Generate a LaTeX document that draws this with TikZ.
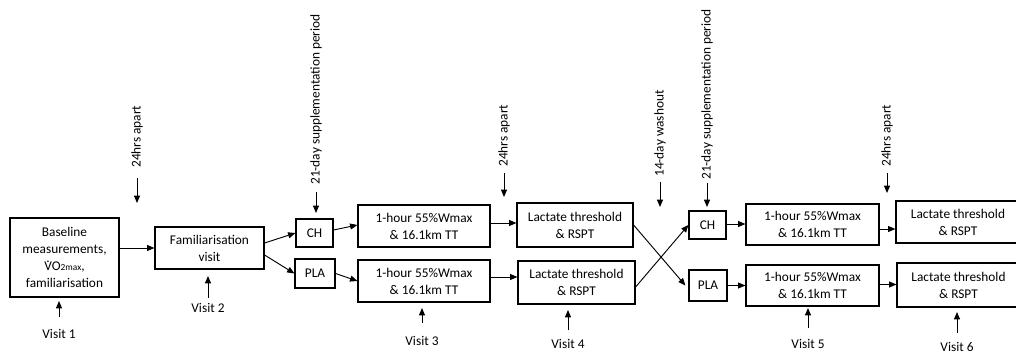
\documentclass[tikz,border=0pt]{standalone}
\usepackage{fontspec}
\setmainfont{Carlito}
\usetikzlibrary{arrows.meta,calc}
\newcommand{\vdotV}{{\ooalign{V\cr\hidewidth\smash{\raisebox{0.6em}{.}}\hidewidth\cr}}}
\begin{document}
\begin{tikzpicture}[x=0.75pt,y=-0.75pt,
  box/.style 2 args={draw, line width=0.9pt, minimum width=#1*0.75pt, minimum height=#2*0.75pt,
    inner sep=0pt, align=center, font=\fontsize{10}{12.8}\selectfont},
  arr/.style={line width=0.7pt, -{Triangle[length=5.5pt,width=4.5pt]}},
  toplbl/.style={rotate=90, anchor=west, inner sep=0pt, font=\fontsize{10}{12}\selectfont},
  vislbl/.style={anchor=north, inner sep=0pt, font=\fontsize{10}{12}\selectfont}
]
\useasboundingbox (0,0) rectangle (1016,354);
\clip (0,0) rectangle (1016,354);

% boxes
\node[box={109}{79}] (b1) at (64.5,257.5) {Baseline\\measurements,\\\vdotV O{\fontsize{7}{8}\selectfont 2max},\\familiarisation};
\node[box={109}{42}] (b2) at (209.5,248) {Familiarisation\\visit};
\node[box={37}{28}] (ch1) at (314.5,233) {CH};
\node[box={40}{29}] (pla1) at (315,273.5) {PLA};
\node[box={132}{42}] (h1t) at (424,226) {1-hour 55\%Wmax\\\& 16.1km TT};
\node[box={132}{42}] (h1b) at (424,281) {1-hour 55\%Wmax\\\& 16.1km TT};
\node[box={116}{44}] (l1t) at (575,225) {Lactate threshold\\\& RSPT};
\node[box={117}{43}] (l1b) at (576.5,282.5) {Lactate threshold\\\& RSPT};
\node[box={37}{28}] (ch2) at (707.5,225) {CH};
\node[box={38}{31}] (pla2) at (708,285.5) {PLA};
\node[box={133}{41}] (h2t) at (812.5,224.5) {1-hour 55\%Wmax\\\& 16.1km TT};
\node[box={133}{41}] (h2b) at (812.5,285.5) {1-hour 55\%Wmax\\\& 16.1km TT};
\node[box={124}{42}] (l2t) at (958,222) {Lactate threshold\\\& RSPT};
\node[box={123}{44}] (l2b) at (958.5,285) {Lactate threshold\\\& RSPT};

% flow connectors
\draw[arr] (b1.east |- b2.west) -- (b2.west);
\draw[arr] ($(b2.east)+(0,-5)$) -- (ch1.west);
\draw[arr] ($(b2.east)+(0,7)$) -- (pla1.west);
\draw[arr] ($(ch1.east)+(0,-3)$) -- ($(h1t.west)+(0,-1)$);
\draw[arr] (pla1.east) -- (h1b.west);
\draw[arr] ($(h1t.east)+(0,-3)$) -- ($(l1t.west |- h1t.east)+(0,-3)$);
\draw[arr] ($(h1b.east)+(0,-4)$) -- ($(l1b.west |- h1b.east)+(0,-4)$);
\draw[arr] (l1t.east) -- ($(pla2.west)+(-3,0)$);
\draw[arr] ($(l1b.east)+(0,4.5)$) -- (ch2.west);
\draw[arr] ($(ch2.east)+(0,-1)$) -- ($(h2t.west |- ch2.east)+(0,-1)$);
\draw[arr] (pla2.east) -- (h2b.west |- pla2.east);
\draw[arr] ($(h2t.east)+(0,4.5)$) -- ($(l2t.west |- h2t.east)+(0,4.5)$);
\draw[arr] ($(h2b.east)+(0,-1)$) -- ($(l2b.west |- h2b.east)+(0,-1)$);

% top annotations
\node[toplbl] (t1) at (137,168) {24hrs apart};
\coordinate (t1e) at (137,203);
\draw[arr] ($(t1.west)+(0,10)$) -- (t1e);
\node[toplbl] (t2) at (316,185) {21-day supplementation period};
\coordinate (t2e) at (316,213);
\draw[arr] ($(t2.west)+(0,7)$) -- (t2e);
\node[toplbl] (t3) at (504,167) {24hrs apart};
\coordinate (t3e) at (504,197);
\draw[arr] ($(t3.west)+(0,6)$) -- (t3e);
\node[toplbl] (t4) at (660,177) {14-day washout};
\coordinate (t4e) at (660,207);
\draw[arr] ($(t4.west)+(0,5)$) -- (t4e);
\node[toplbl] (t5) at (707,180) {21-day supplementation period};
\coordinate (t5e) at (707,207);
\draw[arr] ($(t5.west)+(0,3)$) -- (t5e);
\node[toplbl] (t6) at (887,167) {24hrs apart};
\coordinate (t6e) at (887,193);
\draw[arr] ($(t6.west)+(0,6)$) -- (t6e);

% visits
\node[vislbl] (v1) at (59,329) {Visit 1};
\coordinate (v1e) at (59,301);
\draw[arr] ($(v1.north)+(0,-12)$) -- (v1e);
\node[vislbl] (v2) at (208,303) {Visit 2};
\coordinate (v2e) at (208,276);
\draw[arr] ($(v2.north)+(0,-5)$) -- (v2e);
\node[vislbl] (v3) at (422,336) {Visit 3};
\coordinate (v3e) at (422,308);
\draw[arr] ($(v3.north)+(0,-13)$) -- (v3e);
\node[vislbl] (v4) at (568,339) {Visit 4};
\coordinate (v4e) at (568,310);
\draw[arr] ($(v4.north)+(0,-9)$) -- (v4e);
\node[vislbl] (v5) at (808,339) {Visit 5};
\coordinate (v5e) at (808,308);
\draw[arr] ($(v5.north)+(0,-11)$) -- (v5e);
\node[vislbl] (v6) at (957,342) {Visit 6};
\coordinate (v6e) at (957,312);
\draw[arr] ($(v6.north)+(0,-9)$) -- (v6e);
\end{tikzpicture}
\end{document}
